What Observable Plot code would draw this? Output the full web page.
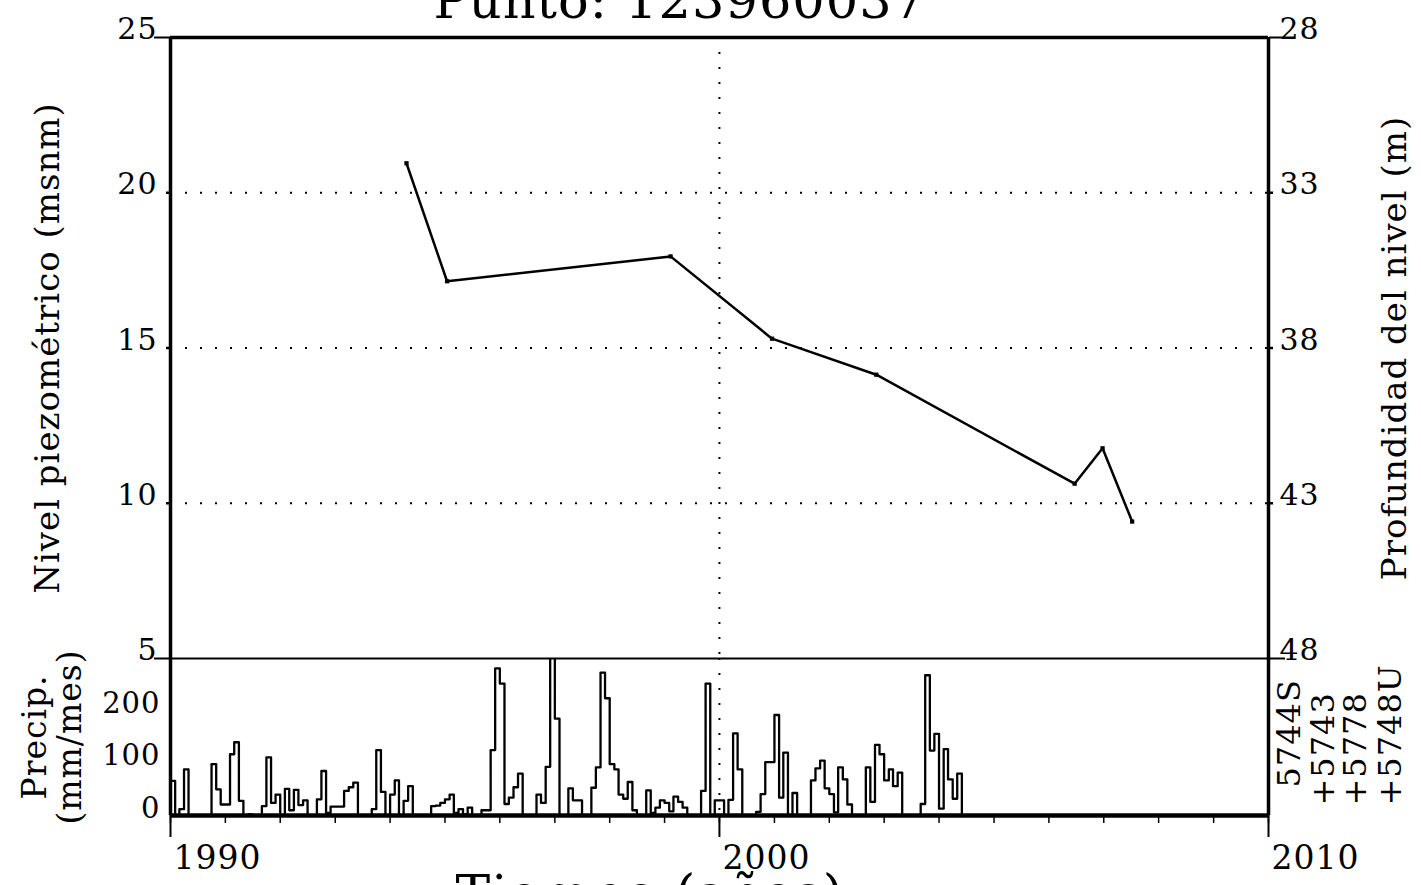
<!DOCTYPE html>
<html><head><meta charset="utf-8">
<script src="https://cdn.jsdelivr.net/npm/d3@7"></script>
<script src="https://cdn.jsdelivr.net/npm/@observablehq/plot@0.6"></script>
<style>
body{margin:0;background:#fff;}
#wrap{position:relative;width:1421px;height:885px;overflow:hidden;background:#fff;}
#topPanel,#botPanel{position:absolute;left:0;}
#topPanel{top:0;} #botPanel{top:658px;}
#wrap text{letter-spacing:1px;}
</style></head><body>
<div id="wrap"><div id="topPanel"></div><div id="botPanel"></div></div>
<script>
// ---------- data ----------
const titleText = "Punto: 123960037";
const xTitle = "Tiempo (años)";
const yTitleLeft = "Nivel piezométrico (msnm)";
const yTitleRight = "Profundidad del nivel (m)";
const precipTitle1 = "Precip.";
const precipTitle2 = "(mm/mes)";
const gauges = ["5744S", "+5743", "+5778", "+5748U"];

const levelDates = ["1994-04-20","1995-01-15","1999-02-10","2000-12-16","2002-11-10","2006-06-21","2006-12-24","2007-07-09"];
const levelValues = [20.95, 17.15, 17.95, 15.30, 14.14, 10.63, 11.77, 9.41];

const precipStart = "1990-01-01";
const precipValues = [
 66,0,12,88,0,0,0,0,0,98,50,21,
 21,117,140,28,0,2,0,0,18,111,24,40,
 0,51,10,49,20,29,0,0,31,85,5,17,
 17,17,47,54,63,0,0,0,12,125,45,0,
 40,67,0,28,56,0,0,0,0,18,19,24,
 31,40,5,12,2,15,0,0,10,10,125,281,
 252,22,34,54,80,0,0,0,40,24,93,320,
 185,0,0,52,29,29,0,0,53,92,273,224,
 98,88,40,32,64,10,0,0,48,5,15,29,
 24,8,36,26,15,0,0,0,47,252,0,29,
 29,0,30,157,88,0,0,0,7,41,102,102,
 192,34,120,0,43,0,0,0,67,90,105,52,
 41,6,92,69,21,0,0,0,92,26,135,117,
 67,88,56,82,0,0,0,0,22,268,124,156,
 13,127,69,32,80];

const xDomainYears = [1990, 2010];
const levelDomain = [5, 25];
const levelTicks = [25, 20, 15, 10, 5];
const levelEndTicks = [25, 5];
const levelMidTicks = [20, 15, 10];
const levelGrid = [10, 15, 20];
const depthOffset = 53;           // profundidad = 53 - nivel
const precipDomain = [0, 300];
const precipTicks = [200, 100, 0];
const yearLabels = [1990, 2000, 2010];
const gridYears = [2000];

// ---------- helpers ----------
const utcYear = y => new Date(Date.UTC(y, 0, 1));
const xDomain = xDomainYears.map(utcYear);
const levelRows = levelDates.map((d, i) => ({date: new Date(d + "T00:00:00Z"), value: levelValues[i]}));
const pStart = new Date(precipStart + "T00:00:00Z");
const precipRows = [{date: pStart, v: 0}];
precipValues.forEach((v, i) => precipRows.push({date: d3.utcMonth.offset(pStart, i), v}));
const pEnd = d3.utcMonth.offset(pStart, precipValues.length);
precipRows.push({date: pEnd, v: precipValues[precipValues.length - 1]});
precipRows.push({date: pEnd, v: 0});
const allYears = d3.range(xDomainYears[0], xDomainYears[1] + 1).map(utcYear);
const labelYears = yearLabels.map(utcYear);
const gridYearDates = gridYears.map(utcYear);

const FONT = "DejaVu Serif";
const dotted = {stroke: "black", strokeWidth: 2, strokeDasharray: "2 13"};
const W = 1421, ML = 170, MR = 153;
const noLabel = {label: null};

// ---------- top panel ----------
const topPlot = Plot.plot({
  width: W, height: 660, marginTop: 37, marginBottom: 2, marginLeft: ML, marginRight: MR,
  style: {fontFamily: FONT, background: "white", color: "black", overflow: "visible"},
  x: {type: "utc", domain: xDomain, axis: null},
  y: {domain: levelDomain, axis: null},
  marks: [
    Plot.ruleY(levelGrid, dotted),
    Plot.ruleX(gridYearDates, dotted),
    Plot.ruleY([levelDomain[1]], {stroke: "black", strokeWidth: 3.5}),
    Plot.ruleX(xDomain, {stroke: "black", strokeWidth: 3.5}),
    Plot.axisY(levelEndTicks, {...noLabel, anchor: "left", tickSize: 16, tickFormat: () => "", strokeWidth: 2}),
    Plot.axisY(levelMidTicks, {...noLabel, anchor: "left", tickSize: 4, tickFormat: () => "", strokeWidth: 2.5}),
    Plot.axisY(levelEndTicks, {...noLabel, anchor: "right", tickSize: 16, tickFormat: () => "", strokeWidth: 2}),
    Plot.axisY(levelMidTicks, {...noLabel, anchor: "right", tickSize: 4, tickFormat: () => "", strokeWidth: 2.5}),
    Plot.axisY(levelTicks, {...noLabel, anchor: "left", tickSize: 0, tickPadding: 13, dy: -8, fontSize: 30, tickFormat: d => String(d)}),
    Plot.axisY(levelTicks, {...noLabel, anchor: "right", tickSize: 0, tickPadding: 11, dy: -8, fontSize: 30, tickFormat: d => String(depthOffset - d)}),
    Plot.line(levelRows, {x: "date", y: "value", stroke: "black", strokeWidth: 2.5}),
    Plot.dot(levelRows, {x: "date", y: "value", symbol: "square", r: 2.4, fill: "black"}),
    Plot.text([titleText], {text: d => d, frameAnchor: "top", textAnchor: "start", lineAnchor: "bottom", dx: -286, dy: -20, fontSize: 51}),
    Plot.text([yTitleLeft], {text: d => d, frameAnchor: "left", textAnchor: "middle", rotate: -90, dx: -122, fontSize: 34}),
    Plot.text([yTitleRight], {text: d => d, frameAnchor: "right", textAnchor: "middle", rotate: -90, dx: 127, fontSize: 34})
  ]
});
document.getElementById("topPanel").appendChild(topPlot);

// ---------- precipitation panel ----------
const gaugeDx = [31, 65, 97, 132];
const gaugeDy = [-28, -10, -10, -10];
const gaugeMarks = gauges.map((g, i) => Plot.text([g], {
  text: d => d, frameAnchor: "bottom-right", rotate: -90, textAnchor: "start",
  dx: gaugeDx[i], dy: gaugeDy[i], fontSize: 32
}));

const botPlot = Plot.plot({
  width: W, height: 227, marginTop: 0, marginBottom: 70, marginLeft: ML, marginRight: MR,
  style: {fontFamily: FONT, background: "none", color: "black", overflow: "visible"},
  x: {type: "utc", domain: xDomain, axis: null},
  y: {domain: precipDomain, axis: null},
  marks: [
    Plot.ruleX(gridYearDates, dotted),
    Plot.ruleY([precipDomain[1]], {stroke: "black", strokeWidth: 2}),
    Plot.line(precipRows, {x: "date", y: "v", curve: "step-after", stroke: "black", strokeWidth: 2.3, clip: true}),
    Plot.ruleX(xDomain, {stroke: "black", strokeWidth: 3.5}),
    Plot.ruleY([precipDomain[0]], {stroke: "black", strokeWidth: 4.5}),
    Plot.axisX(allYears, {...noLabel, anchor: "bottom", tickSize: 8, tickFormat: () => "", strokeWidth: 1.5}),
    Plot.axisX(labelYears, {...noLabel, anchor: "bottom", tickSize: 22, tickFormat: () => "", strokeWidth: 2}),
    Plot.text(labelYears, {x: d => d, text: d => d3.utcFormat("%Y")(d), frameAnchor: "bottom", textAnchor: "start", lineAnchor: "middle", dx: 3, dy: 43, fontSize: 33}),
    Plot.axisY(precipTicks, {...noLabel, anchor: "left", tickSize: 0, tickPadding: 10, dy: -7, fontSize: 29, tickFormat: d => String(d)}),
    Plot.text([precipTitle1], {text: d => d, frameAnchor: "left", textAnchor: "middle", rotate: -90, dx: -135, fontSize: 33}),
    Plot.text([precipTitle2], {text: d => d, frameAnchor: "left", textAnchor: "middle", rotate: -90, dx: -100, fontSize: 33}),
    ...gaugeMarks,
    Plot.text([xTitle], {text: d => d, frameAnchor: "bottom", textAnchor: "start", lineAnchor: "bottom", dx: -264, dy: 96, fontSize: 52})
  ]
});
document.getElementById("botPanel").appendChild(botPlot);
</script>
</body></html>
